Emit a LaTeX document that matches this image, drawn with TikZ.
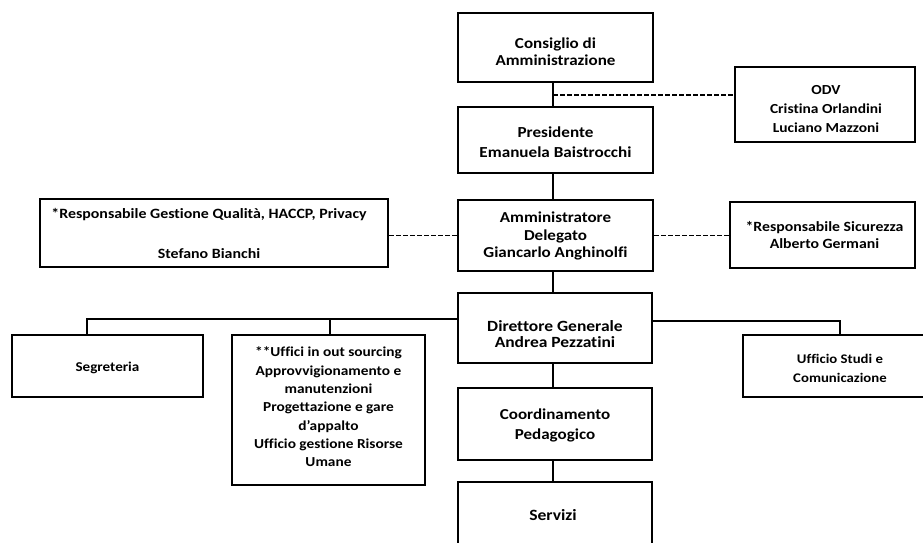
\documentclass[tikz,border=0pt]{standalone}
\usepackage{fontspec}
\setmainfont{Carlito}[FakeStretch=1.12,Ligatures=NoCommon]
\newcommand\fsz[2]{\fontsize{#1}{#2}\selectfont\bfseries}
\begin{document}
\begin{tikzpicture}[x=1pt,y=-1pt,
  box/.style={draw=black,line width=2.4pt,rectangle,inner sep=0pt},
  tx/.style={align=center,inner sep=0pt},
  conn/.style={draw=black,line width=1.3pt},
  dconn/.style={draw=black,line width=1.3pt,dash pattern=on 5pt off 2pt}]
\useasboundingbox (0,0) rectangle (923,543);
\clip (0,0) rectangle (923,543);
\fill[white] (0,0) rectangle (923,543);
% boxes
\node[box,minimum width=195pt,minimum height=69pt] (cda) at (555.5,47.5) {};
\node[box,minimum width=180pt,minimum height=75pt] (odv) at (825,104.5) {};
\node[box,minimum width=195pt,minimum height=66pt] (pres) at (555.5,140) {};
\node[box,minimum width=195pt,minimum height=71pt] (amm) at (555.5,235.5) {};
\node[box,minimum width=348pt,minimum height=68pt] (qual) at (214,233) {};
\node[box,minimum width=185pt,minimum height=66pt] (sic) at (822.5,235) {};
\node[box,minimum width=194pt,minimum height=70pt] (dir) at (555,328) {};
\node[box,minimum width=191pt,minimum height=62pt] (segr) at (107.5,366) {};
\node[box,minimum width=193pt,minimum height=150pt] (uff) at (328.5,410) {};
\node[box,minimum width=194pt,minimum height=62pt] (studi) at (840,366) {};
\node[box,minimum width=194pt,minimum height=72pt] (coord) at (555,424) {};
\node[box,minimum width=194pt,minimum height=90pt] (serv) at (555,527) {};
% texts
\node[tx,font=\fsz{15.2}{17.5}] (cdaT) at (555.5,51.5) {Consiglio di\\Amministrazione};
\node[tx,font=\fsz{13.8}{19}] (odvT) at (826,109) {ODV\\Cristina Orlandini\\Luciano Mazzoni};
\node[tx,font=\fsz{15.3}{20}] (presT) at (555.5,142) {Presidente\\Emanuela Baistrocchi};
\node[tx,font=\fsz{15.2}{17.5}] (ammT) at (555.5,236) {Amministratore\\Delegato\\Giancarlo Anghinolfi};
\node[tx,font=\fsz{14.2}{18}] (qualT) at (209,233) {*Responsabile Gestione Qualità, HACCP, Privacy\\[22pt]Stefano Bianchi};
\node[tx,font=\fsz{14.1}{16.5}] (sicT) at (824.5,235) {*Responsabile Sicurezza\\Alberto Germani};
\node[tx,font=\fsz{15.6}{16}] (dirT) at (555,334) {Direttore Generale\\Andrea Pezzatini};
\node[tx,font=\fsz{13.5}{16}] (segrT) at (107.5,368) {Segreteria};
\node[tx,font=\fsz{13.7}{18.3}] (uffT) at (328.5,407) {**Uffici in out sourcing\\Approvvigionamento e\\manutenzioni\\Progettazione e gare\\d’appalto\\Ufficio gestione Risorse\\Umane};
\node[tx,font=\fsz{13.2}{19}] (studiT) at (840,368.5) {Ufficio Studi e\\Comunicazione};
\node[tx,font=\fsz{15.2}{20}] (coordT) at (555,425) {Coordinamento\\Pedagogico};
\node[tx,font=\fsz{15.7}{18}] (servT) at (553,515) {Servizi};
% connectors
\coordinate (c1) at (553,95);
\draw[conn] (cda.south -| c1) -- (pres.north -| c1);
\draw[dconn] (c1) -- (c1 -| odv.west);
\draw[conn] (pres.south -| c1) -- (amm.north -| c1);
\draw[dconn] (amm.west) -- (amm.west -| qual.east);
\draw[dconn] (amm.east) -- (amm.east -| sic.west);
\draw[conn] (amm.south -| c1) -- (dir.north -| c1);
\coordinate (l1) at (87,319);
\coordinate (l2) at (330,319);
\draw[conn] (l1 -| dir.west) -- (l1) -- (l1 |- segr.north);
\draw[conn] (l2) -- (l2 |- uff.north);
\coordinate (r1) at (840,321);
\draw[conn] (r1 -| dir.east) -- (r1) -- (r1 |- studi.north);
\draw[conn] (dir.south -| c1) -- (coord.north -| c1);
\draw[conn] (coord.south -| c1) -- (serv.north -| c1);
\end{tikzpicture}
\end{document}
